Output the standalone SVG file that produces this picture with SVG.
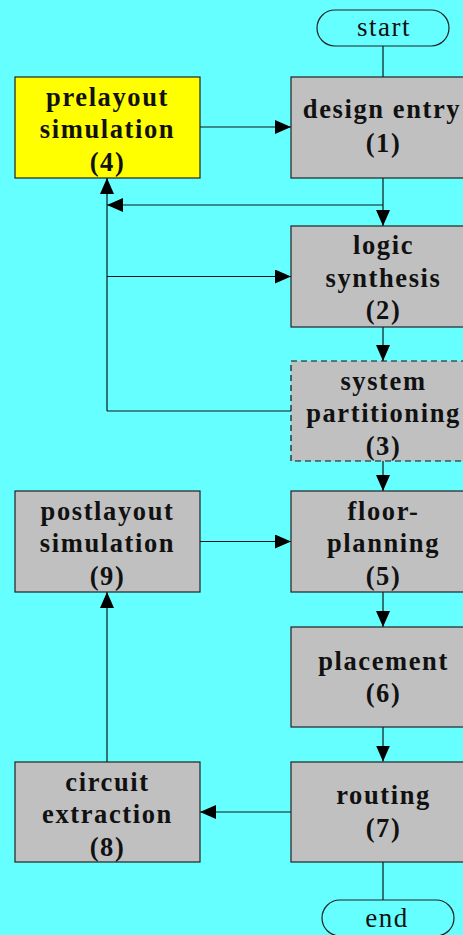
<svg xmlns="http://www.w3.org/2000/svg" width="463" height="935" viewBox="0 0 463 935">
  <style>
    .box { fill: #c0c0c0; stroke: #222; stroke-width: 1.2; }
    .sel { fill: #ffff00; }
    .dash { stroke: #111; stroke-dasharray: 6 4; }
    .term { fill: none; stroke: #222; stroke-width: 1.2; }
    .lbl { font-family: "Liberation Serif", "Times New Roman", serif; font-size: 26.5px; font-weight: bold; letter-spacing: 1.6px; fill: #111; text-anchor: middle; }
    .tlbl { font-family: "Liberation Serif", "Times New Roman", serif; font-size: 27px; letter-spacing: 1.5px; fill: #111; text-anchor: middle; }
    .wire { fill: none; stroke: #0a1a1a; stroke-width: 1.2; }
  </style>
  <defs>
    <marker id="arrow" markerUnits="userSpaceOnUse" markerWidth="16" markerHeight="14" refX="16" refY="7" orient="auto">
      <path d="M0,0 L16,7 L0,14 z" fill="#000"/>
    </marker>
  </defs>

  <rect width="463" height="935" fill="#66ffff"/>

  <!-- connectors -->
  <g id="connectors">
    <line class="wire" x1="383" y1="46" x2="383" y2="77"/>
    <line class="wire" x1="200" y1="127" x2="291" y2="127" marker-end="url(#arrow)"/>
    <line class="wire" x1="383" y1="178" x2="383" y2="226" marker-end="url(#arrow)"/>
    <line class="wire" x1="383" y1="205" x2="107" y2="205" marker-end="url(#arrow)"/>
    <line class="wire" x1="107" y1="411" x2="107" y2="178" marker-end="url(#arrow)"/>
    <line class="wire" x1="107" y1="276.5" x2="291" y2="276.5" marker-end="url(#arrow)"/>
    <line class="wire" x1="291" y1="411" x2="107" y2="411"/>
    <line class="wire" x1="383" y1="327" x2="383" y2="361" marker-end="url(#arrow)"/>
    <line class="wire" x1="383" y1="461" x2="383" y2="491" marker-end="url(#arrow)"/>
    <line class="wire" x1="200" y1="541.5" x2="291" y2="541.5" marker-end="url(#arrow)"/>
    <line class="wire" x1="383" y1="592" x2="383" y2="627" marker-end="url(#arrow)"/>
    <line class="wire" x1="383" y1="727" x2="383" y2="761.5" marker-end="url(#arrow)"/>
    <line class="wire" x1="291" y1="812" x2="200" y2="812" marker-end="url(#arrow)"/>
    <line class="wire" x1="107" y1="762" x2="107" y2="592" marker-end="url(#arrow)"/>
    <line class="wire" x1="383" y1="862" x2="383" y2="900"/>
  </g>

  <g id="start">
    <rect class="term" x="317" y="10" width="132" height="36" rx="18"/>
    <text class="tlbl" x="384" y="36">start</text>
  </g>

  <g id="design-entry">
    <rect class="box" x="291" y="77" width="185" height="101"/>
    <text class="lbl" x="382" y="118">design entry</text>
    <text class="lbl" x="383.5" y="152">(1)</text>
  </g>

  <g id="prelayout-simulation">
    <rect class="box sel" x="15" y="77" width="185" height="101"/>
    <text class="lbl" x="107.5" y="106">prelayout</text>
    <text class="lbl" x="107.5" y="138">simulation</text>
    <text class="lbl" x="107.5" y="171">(4)</text>
  </g>

  <g id="logic-synthesis">
    <rect class="box" x="291" y="226" width="185" height="101"/>
    <text class="lbl" x="383.5" y="254">logic</text>
    <text class="lbl" x="383.5" y="286.5">synthesis</text>
    <text class="lbl" x="383.5" y="319">(2)</text>
  </g>

  <g id="system-partitioning">
    <rect class="box dash" x="291" y="361" width="185" height="100"/>
    <text class="lbl" x="383.5" y="390">system</text>
    <text class="lbl" x="383.5" y="422">partitioning</text>
    <text class="lbl" x="383.5" y="455">(3)</text>
  </g>

  <g id="postlayout-simulation">
    <rect class="box" x="15" y="491" width="185" height="101"/>
    <text class="lbl" x="107.5" y="520">postlayout</text>
    <text class="lbl" x="107.5" y="552">simulation</text>
    <text class="lbl" x="107.5" y="585">(9)</text>
  </g>

  <g id="floor-planning">
    <rect class="box" x="291" y="491" width="185" height="101"/>
    <text class="lbl" x="383.5" y="520">floor-</text>
    <text class="lbl" x="383.5" y="552">planning</text>
    <text class="lbl" x="383.5" y="585">(5)</text>
  </g>

  <g id="placement">
    <rect class="box" x="291" y="627" width="185" height="100"/>
    <text class="lbl" x="383.5" y="670">placement</text>
    <text class="lbl" x="383.5" y="702">(6)</text>
  </g>

  <g id="routing">
    <rect class="box" x="291" y="762" width="185" height="100"/>
    <text class="lbl" x="383.5" y="804">routing</text>
    <text class="lbl" x="383.5" y="837">(7)</text>
  </g>

  <g id="circuit-extraction">
    <rect class="box" x="15" y="762" width="185" height="100"/>
    <text class="lbl" x="107.5" y="791">circuit</text>
    <text class="lbl" x="107.5" y="823">extraction</text>
    <text class="lbl" x="107.5" y="856">(8)</text>
  </g>

  <g id="end">
    <rect class="term" x="322" y="900" width="132" height="36" rx="18"/>
    <text class="tlbl" x="387" y="927">end</text>
  </g>
</svg>
